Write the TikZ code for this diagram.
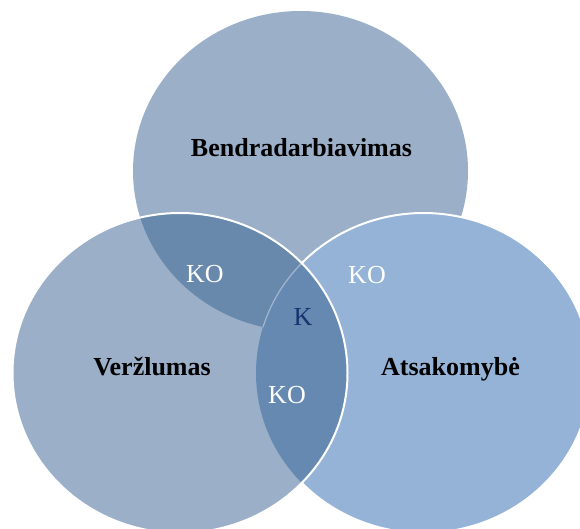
\documentclass[tikz,border=0pt]{standalone}
\usepackage{fontspec}
\setmainfont{Liberation Serif}
\definecolor{topc}{HTML}{9BAFC8}
\definecolor{leftc}{HTML}{9BAFC8}
\definecolor{rightc}{HTML}{95B3D7}
\definecolor{darkA}{HTML}{6888AC}
\definecolor{darkB}{HTML}{6689B2}
\definecolor{faint}{HTML}{A3B6CE}
\definecolor{navy}{HTML}{17326E}
\begin{document}
\begin{tikzpicture}[x=1pt,y=-1pt,
  ell/.style={x radius=167.5,y radius=160},
  lbl/.style={font=\fontsize{26}{26}\selectfont\bfseries, text=black, anchor=base, inner sep=0pt},
  ko/.style={font=\fontsize{26}{26}\selectfont, text=white, anchor=base, inner sep=0pt},
  outline/.style={draw=white, line width=2}]
\useasboundingbox (0,0) rectangle (580,529);
\clip (0,0) rectangle (580,529);
% top and left circles
\fill[topc] (300.5,171) ellipse [ell];
\fill[leftc] (180,373) ellipse [ell];
\begin{scope}
  \clip (300.5,171) ellipse [ell];
  \fill[darkA] (180,373) ellipse [ell];
\end{scope}
% right circle
\fill[rightc] (423.5,373) ellipse [ell];
\begin{scope}
  \clip (180,373) ellipse [ell];
  \fill[darkB] (423.5,373) ellipse [ell];
\end{scope}
% outlines
\draw[outline] (423.5,373) ++(223.4:167.5 and 160) arc [start angle=223.4, end angle=496.6, ell];
\begin{scope}
  \clip (300.5,171) ellipse [ell];
  \draw[faint, line width=1.2] (423.5,373) ++(223.4:167.5 and 160) arc [start angle=223.4, end angle=136.6, ell];
\end{scope}
\draw[outline] (180,373) ellipse [ell];
% labels
\node[lbl] (bend) at (301.5,157) {Bendradarbiavimas};
\node[lbl] (verz) at (152,375) {Veržlumas};
\node[lbl] (atsa) at (450.5,375) {Atsakomybė};
\node[ko] (ko1) at (205,282) {KO};
\node[ko] (ko2) at (367,283) {KO};
\node[ko] (ko3) at (287,403) {KO};
\node[ko, text=navy] (k) at (303,325) {K};
\end{tikzpicture}
\end{document}
